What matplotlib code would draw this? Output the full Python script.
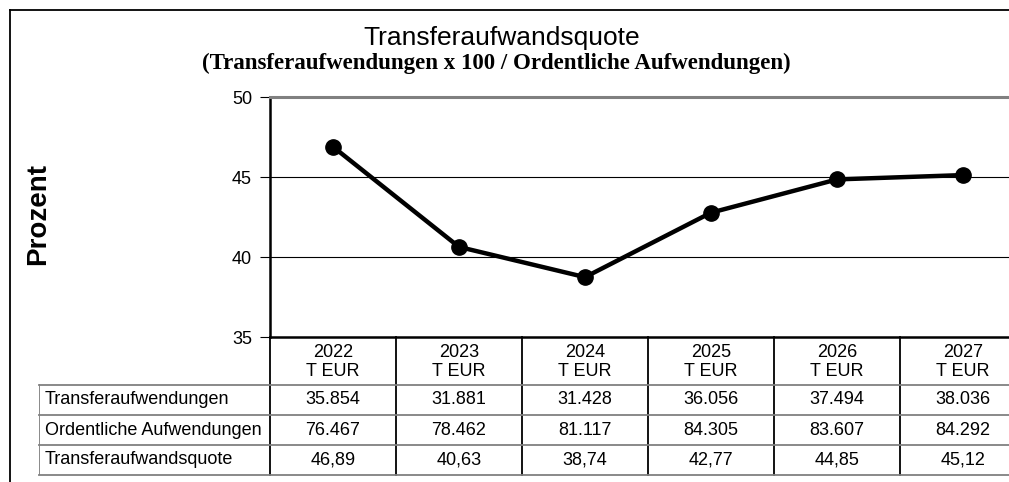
import matplotlib
matplotlib.use("Agg")
import matplotlib.pyplot as plt

# --- data ---
years = ["2022", "2023", "2024", "2025", "2026", "2027"]
quote = [46.89, 40.63, 38.74, 42.77, 44.85, 45.12]
row_labels = ["Transferaufwendungen", "Ordentliche Aufwendungen", "Transferaufwandsquote"]
transfer = ["35.854", "31.881", "31.428", "36.056", "37.494", "38.036"]
ordentlich = ["76.467", "78.462", "81.117", "84.305", "83.607", "84.292"]
quote_txt = ["46,89", "40,63", "38,74", "42,77", "44,85", "45,12"]
yticks = [35, 40, 45, 50]

plt.rcParams["font.family"] = ["Liberation Sans", "DejaVu Sans"]

W, H = 1009, 482
fig = plt.figure(figsize=(W / 100, H / 100), dpi=100)


def box(x0, y0, x1, y1):
    """pixel box (top-left origin) -> figure fraction rect"""
    return [x0 / W, 1 - y1 / H, (x1 - x0) / W, (y1 - y0) / H]


# outer frame (left + top only, the rest is cropped)
fig.add_artist(plt.Line2D([10 / W, 10 / W], [0, 1 - 10 / H], color="black", lw=1.3))
fig.add_artist(plt.Line2D([10 / W, 1], [1 - 10 / H, 1 - 10 / H], color="black", lw=1.3))

fig.text(502 / W, 1 - 38 / H, "Transferaufwandsquote", ha="center", va="center",
         fontsize=19)
fig.text(496 / W, 1 - 63 / H, "(Transferaufwendungen x 100 / Ordentliche Aufwendungen)",
         ha="center", va="center", fontsize=16.5, fontweight="bold",
         family=["Liberation Serif", "DejaVu Serif"])
fig.text(38 / W, 1 - 214 / H, "Prozent", rotation=90, ha="center", va="center",
         fontsize=20, fontweight="bold")

# --- line chart ---
col_w = 126
x_left, y_top, y_bot = 270, 97, 337
ax = fig.add_axes(box(x_left, y_top, x_left + 6 * col_w, y_bot))
xs = list(range(len(years)))
ax.plot(xs, quote, color="black", lw=3.2, marker="o", markersize=11, zorder=3,
        clip_on=False)
ax.set_xlim(-0.5, 5.5)
ax.set_ylim(35, 50)
ax.set_yticks(yticks)
ax.set_xticks([])
for y in yticks[1:-1]:
    ax.axhline(y, color="black", lw=0.8, zorder=1)
ax.spines["right"].set_visible(False)
ax.spines["top"].set_color("#808080")
ax.spines["top"].set_linewidth(2.2)
ax.spines["left"].set_linewidth(1.8)
ax.spines["bottom"].set_linewidth(1.8)
ax.tick_params(axis="y", length=7, width=0.8, labelsize=13, pad=6)
ax.patch.set_alpha(0)

# --- data table below the chart ---
lab_left = 39
tab_bottom = 475
hdr_h = 1.6
n_rows = len(row_labels)
tx = fig.add_axes(box(lab_left, y_bot, x_left + 6 * col_w, tab_bottom))
x_lab = -0.5 - (x_left - lab_left) / col_w
tx.set_xlim(x_lab, 5.5)
tx.set_ylim(hdr_h + n_rows, 0)
tx.axis("off")

# vertical lines at column boundaries
for i in range(len(years) + 1):
    tx.plot([i - 0.5, i - 0.5], [0, hdr_h + n_rows], color="black", lw=1.3,
            clip_on=False)
tx.plot([x_lab, x_lab], [hdr_h, hdr_h + n_rows], color="#808080", lw=1.3)
# horizontal lines
for r in range(n_rows + 1):
    yy = hdr_h + r
    tx.plot([x_lab, 5.5], [yy, yy], color="#808080", lw=1.3, clip_on=False)

for i, yr in enumerate(years):
    tx.text(i, hdr_h / 2 + 0.03, f"{yr}\nT EUR", ha="center", va="center", fontsize=13,
            linespacing=1.2)

table_rows = [transfer, ordentlich, quote_txt]
for r, (lab, vals) in enumerate(zip(row_labels, table_rows)):
    yc = hdr_h + r + 0.5
    tx.text(x_lab + 0.045, yc, lab, ha="left", va="center", fontsize=13)
    for i, v in enumerate(vals):
        tx.text(i, yc, v, ha="center", va="center", fontsize=13)

fig.savefig("out.png", dpi=100)
